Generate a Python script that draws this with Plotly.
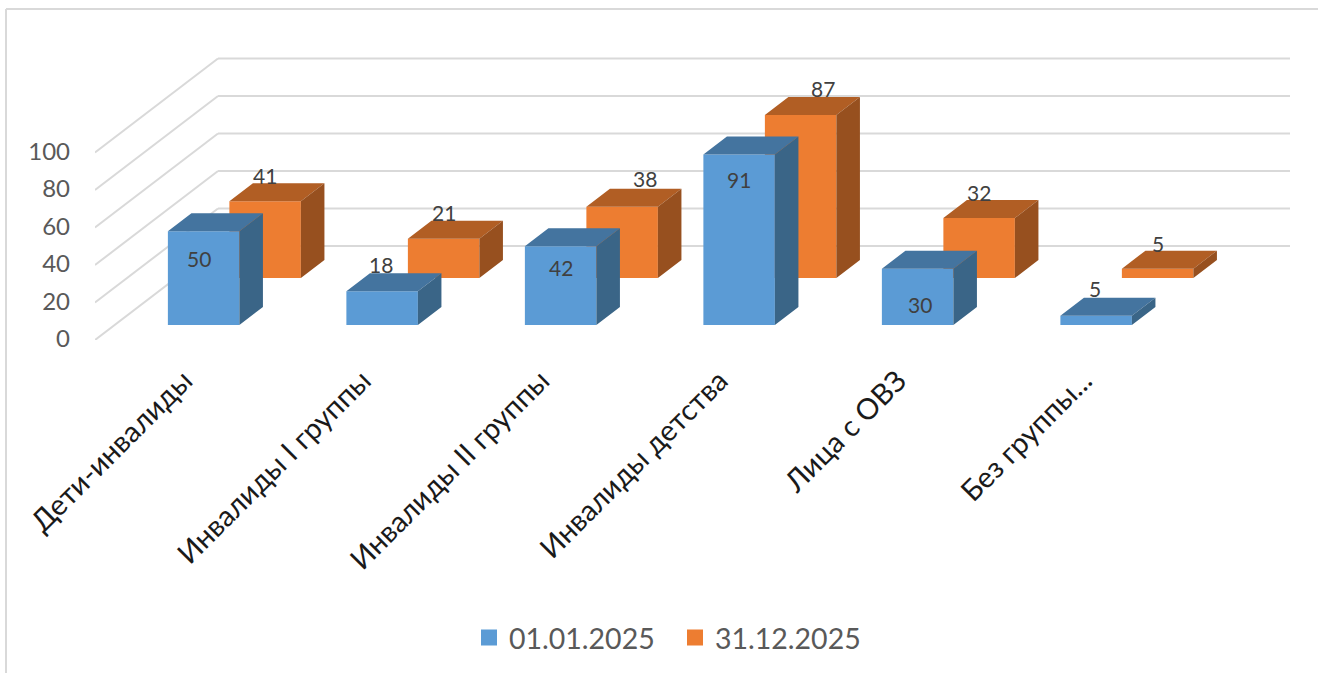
import plotly.graph_objects as go

categories = ["Дети-инвалиды", "Инвалиды I группы", "Инвалиды II группы",
              "Инвалиды детства", "Лица с ОВЗ", "Без группы..."]
series_names = ["01.01.2025", "31.12.2025"]
values_start = [50, 18, 42, 91, 30, 5]
values_end = [41, 21, 38, 87, 32, 5]
y_ticks = [0, 20, 40, 60, 80, 100]

# label nudges in pixels (x right, y up) relative to the top of each front face
label_dx_start = [-5, -1, 0, 0, 2, -1]
label_dy_start = [-27, 27, -21, -25, -36, 27]
label_dx_end = [0, 0, 23, 22, 0, 0]
label_dy_end = [26, 26, 28, 26, 26, 25]
# small nudge (in category units) of the last category label
tick_nudge = [0, 0, 0, 0, 0, 0.04]

W, H = 1318, 673
L, R, T, B = 95, 1290, 20, 340      # plot rectangle of the chart itself, in pixels
PB = 663                            # bottom of the paper area (leaves room for the legend inside it)
PX_X, PX_Y = 178.5, 1.875           # pixels per data unit
X0 = 184.0                          # pixel of category 0
FONT = "Lato, 'Open Sans', sans-serif"
GRID = "#D9D9D9"

WALL_X, WALL_Y = 123 / PX_X, 94 / PX_Y   # oblique shift of the back wall
BAR_W = 71.5 / PX_X
BAR_T = 18 / 94                          # bar depth as a share of the floor depth
STYLE = [
    dict(name=series_names[0], vals=values_start, t=15 / 94, front="#5B9BD5", top="#44749F", side="#3A6587",
         dx=label_dx_start, dy=label_dy_start),
    dict(name=series_names[1], vals=values_end, t=62 / 94, front="#ED7D31", top="#B15E24", side="#97501F",
         dx=label_dx_end, dy=label_dy_end),
]


def py(p):
    return (PB - p) / (PB - T)


def px(p):
    return (p - L) / (R - L)


fig = go.Figure()

shapes = []
for v in y_ticks:
    xl = (L - X0) / PX_X
    shapes.append(dict(type="line", xref="x", yref="y", layer="below", x0=xl, y0=v,
                       x1=xl + WALL_X, y1=v + WALL_Y, line=dict(color=GRID, width=2)))
    shapes.append(dict(type="line", xref="x", yref="y", layer="below", x0=xl + WALL_X, y0=v + WALL_Y,
                       x1=(R - X0) / PX_X, y1=v + WALL_Y, line=dict(color=GRID, width=2)))
# chart frame (left and top edges)
shapes.append(dict(type="line", xref="paper", yref="paper", x0=px(6), x1=px(W), y0=py(9), y1=py(9),
                   line=dict(color=GRID, width=2)))
shapes.append(dict(type="line", xref="paper", yref="paper", x0=px(6), x1=px(6), y0=py(9), y1=py(H),
                   line=dict(color=GRID, width=2)))

annotations = []
for s in reversed(STYLE):
    sx, sy = s["t"] * WALL_X, s["t"] * WALL_Y
    cx = [i + sx for i in range(len(categories))]
    fig.add_trace(go.Bar(x=cx, y=s["vals"], base=[sy] * len(cx), width=BAR_W, marker=dict(color=s["front"], line=dict(width=0)),
                         showlegend=False, name=s["name"], hoverinfo="skip"))
    dx, dy = BAR_T * WALL_X, BAR_T * WALL_Y
    top_x, top_y, side_x, side_y = [], [], [], []
    for c, v in zip(cx, s["vals"]):
        xa, xb = c - BAR_W / 2, c + BAR_W / 2
        yb, yt = sy, sy + v
        top_x += [xa, xb, xb + dx, xa + dx, xa, None]
        top_y += [yt, yt, yt + dy, yt + dy, yt, None]
        side_x += [xb, xb + dx, xb + dx, xb, xb, None]
        side_y += [yb, yb + dy, yt + dy, yt, yb, None]
    for xs, ys, col in ((top_x, top_y, s["top"]), (side_x, side_y, s["side"])):
        fig.add_trace(go.Scatter(x=xs, y=ys, mode="lines", fill="toself", fillcolor=col, line=dict(width=0, color=col),
                                 showlegend=False, hoverinfo="skip"))
    for c, v, ox, oy in zip(cx, s["vals"], s["dx"], s["dy"]):
        annotations.append(dict(x=c, y=sy + v, xref="x", yref="y", text=str(v), showarrow=False, xshift=ox, yshift=oy,
                                font=dict(family=FONT, size=21, color="#404040")))

for s in STYLE:
    fig.add_trace(go.Scatter(x=[None], y=[None], mode="markers", name=s["name"],
                             marker=dict(symbol="square", size=18, color=s["front"])))

fig.update_layout(
    width=W, height=H, margin=dict(l=L, r=W - R, t=T, b=H - PB, autoexpand=False),
    paper_bgcolor="white", plot_bgcolor="white", barmode="overlay",
    shapes=shapes, annotations=annotations,
    xaxis=dict(range=[(L - X0) / PX_X, (R - X0) / PX_X], tickmode="array",
               tickvals=[i + n for i, n in enumerate(tick_nudge)],
               ticktext=categories, tickangle=-45, showgrid=False, zeroline=False, showline=False, ticks="", ticklabelstandoff=17,
               tickfont=dict(family=FONT, size=29, color="#1A1A1A")),
    yaxis=dict(domain=[py(B), 1], range=[0, (B - T) / PX_Y], tickmode="array", tickvals=[v + 0.6 for v in y_ticks],
               ticktext=[str(v) for v in y_ticks],
               showgrid=False, zeroline=False, showline=False, ticks="", ticklabelstandoff=24,
               tickfont=dict(family=FONT, size=24, color="#595959")),
    legend=dict(orientation="h", x=px(469), xanchor="left", xref="paper", y=py(638), yanchor="middle",
                entrywidth=161, entrywidthmode="pixels",
                font=dict(family=FONT, size=28.5, color="#595959"), itemsizing="trace"),
)
fig.write_html("out.html", config={"displayModeBar": False}, post_script="document.body.style.margin='0';")
